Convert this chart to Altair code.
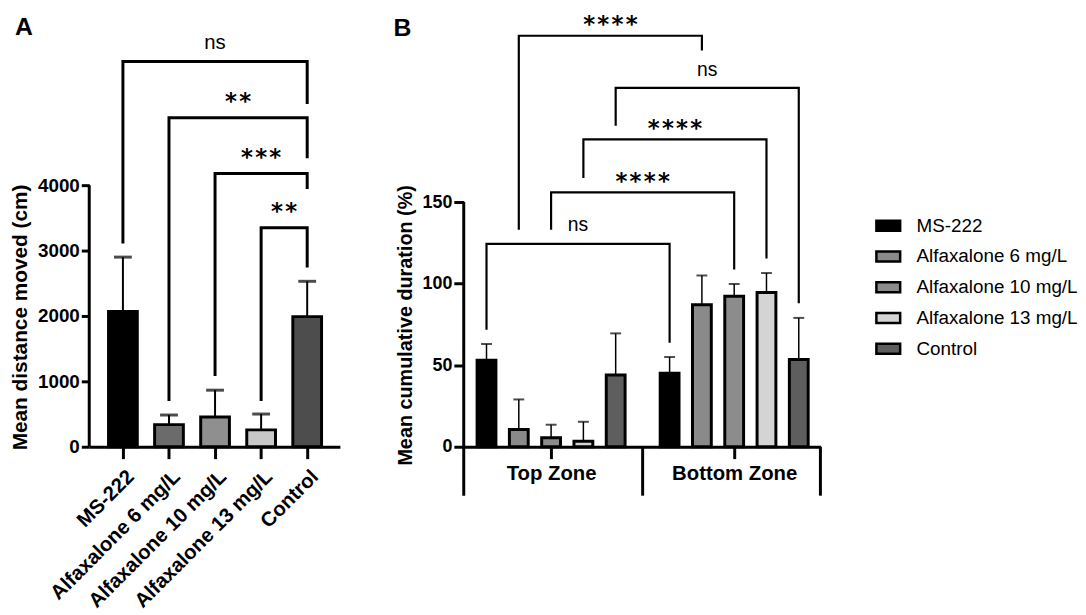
import json
import altair as alt
import pandas as pd

# ---------------- data ----------------
groups = ["MS-222", "Alfaxalone 6 mg/L", "Alfaxalone 10 mg/L", "Alfaxalone 13 mg/L", "Control"]
colors_a = ["#000000", "#6b6b6b", "#8f8f8f", "#c8c8c8", "#4d4d4d"]
colors_b = ["#000000", "#8a8a8a", "#8c8c8c", "#d4d4d4", "#5e5e5e"]

# Panel A: mean distance moved (cm) and SD
dist_mean = [2070, 338, 455, 258, 1990]
dist_sd = [830, 147, 410, 242, 540]
a_ticks = [0, 1000, 2000, 3000, 4000]

# Panel A significance brackets
a_br_left = [0, 1, 2, 3]
a_br_right = [4, 4, 4, 4]
a_br_top = [5890, 5030, 4180, 3350]
a_br_lend = [3110, 700, 1080, 700]
a_br_rend = [5240, 4410, 3940, 2740]
a_br_label = ["ns", "**", "***", "**"]

# Panel B: mean cumulative duration (%) and SD
zones = ["Top Zone", "Bottom Zone"]
top_mean = [53, 10.5, 5.5, 3.3, 44]
top_sd = [10, 18.5, 8, 12, 25.5]
bottom_mean = [45, 87, 92.3, 94.5, 53.5]
bottom_sd = [10, 18, 7.5, 12, 25.5]
b_ticks = [0, 50, 100, 150]

# Panel B significance brackets (same series, top zone vs bottom zone)
b_br_series = [0, 2, 3, 4, 1]
b_br_top = [124.4, 156, 188.5, 220, 252]
b_br_lend = [71.7, 133, 164.8, 196.8, 133]
b_br_rend = [63.8, 108.7, 115.4, 88, 243]
b_br_label = ["ns", "****", "****", "ns", "****"]

# ---------------- layout ----------------
H = 416
A_W, B_W = 253, 360
A_XDOM = [-0.731, 4.71]
A_YDOM = [0, 6303]
B_XDOM = [-0.705, 10.34]
B_YDOM = [0, 252.7]
ZONE_GAP = 5.67
B_FLOOR = -30
FONT = "Liberation Sans"
HAIR = "\u200a"

# ---------------- tables ----------------
a_df = pd.DataFrame({
    "x": list(range(len(groups))),
    "group": groups,
    "y": dist_mean,
    "upper": [m + s for m, s in zip(dist_mean, dist_sd)],
})

def bracket_table(lefts, rights, tops, lends, rends):
    rows = []
    for k, (l, r, t, le, re) in enumerate(zip(lefts, rights, tops, lends, rends)):
        for o, (xx, yy) in enumerate([(l, le), (l, t), (r, t), (r, re)]):
            rows.append({"id": k, "order": o, "x": xx, "y": yy})
    return pd.DataFrame(rows)

def label_table(lefts, rights, tops, labels):
    return pd.DataFrame({
        "x": [(l + r) / 2 for l, r in zip(lefts, rights)],
        "y": tops,
        "label": labels,
        "kind": ["ns" if s == "ns" else "star" for s in labels],
        "shown": [s if s == "ns" else HAIR.join(s) for s in labels],
    })

a_br = bracket_table(a_br_left, a_br_right, a_br_top, a_br_lend, a_br_rend)
a_lab = label_table(a_br_left, a_br_right, a_br_top, a_br_label)

b_rows = []
for z, (means, sds) in enumerate([(top_mean, top_sd), (bottom_mean, bottom_sd)]):
    for j, g in enumerate(groups):
        b_rows.append({"x": z * ZONE_GAP + j, "zone": zones[z], "group": g,
                       "y": means[j], "upper": means[j] + sds[j]})
b_df = pd.DataFrame(b_rows)

b_right = [ZONE_GAP + s for s in b_br_series]
b_br = bracket_table(b_br_series, b_right, b_br_top, b_br_lend, b_br_rend)
b_lab = label_table(b_br_series, b_right, b_br_top, b_br_label)

one = pd.DataFrame({"t": [""]})

# ---------------- panel A ----------------
x_a = alt.X("x:Q", scale=alt.Scale(domain=A_XDOM, nice=False, zero=False, padding=0),
            axis=alt.Axis(values=list(range(len(groups))),
                          labelExpr=json.dumps(groups) + "[datum.value]",
                          labelAngle=-45, labelAlign="right", labelBaseline="alphabetic",
                          labelFontSize=20.5, tickSize=12, labelPadding=19, labelOffset=12,
                          labelOverlap=False, labelFlush=False, labelLimit=0, title=None))
y_a = alt.Y("y:Q", scale=alt.Scale(domain=A_YDOM, nice=False, padding=0),
            axis=alt.Axis(values=a_ticks, format="d", domain=False, tickSize=8, labelPadding=2,
                          labelFontSize=19, title="Mean distance moved (cm)",
                          titleFontSize=21, titleAngle=270, titleBaseline="alphabetic",
                          titleAlign="center", titleX=-63, titleY=285))

a_anchor = alt.Chart(one).mark_rule(strokeOpacity=0, strokeWidth=1).encode(
    x=alt.value(-81.5), x2=alt.value(-81.5), y=alt.value(-39.5), y2=alt.value(-38.5))
a_axis_line = alt.Chart(pd.DataFrame({"y": [a_ticks[0]], "y2": [a_ticks[-1]]})).mark_rule(
    color="black", strokeWidth=3).encode(x=alt.value(0), y=y_a, y2="y2:Q")
a_err = alt.Chart(a_df).mark_rule(color="black", strokeWidth=2).encode(x=x_a, y=y_a, y2="upper:Q")
a_cap = alt.Chart(a_df).mark_tick(orient="horizontal", color="black", size=18, thickness=3).encode(
    x=x_a, y=alt.Y("upper:Q"))
a_bar = alt.Chart(a_df).mark_bar(size=29, stroke="black", strokeWidth=3).encode(
    x=x_a, y=y_a,
    color=alt.Color("group:N", scale=alt.Scale(domain=groups, range=colors_a), legend=None))
a_brk = alt.Chart(a_br).mark_line(color="black", strokeWidth=3, strokeJoin="miter").encode(
    x=x_a, y=y_a, detail="id:N", order="order:Q")
a_ns = alt.Chart(a_lab).transform_filter("datum.kind == 'ns'").mark_text(
    font=FONT, fontSize=20.5, dy=-13, baseline="alphabetic", color="black").encode(
    x=x_a, y=y_a, text="shown:N")
a_st = alt.Chart(a_lab).transform_filter("datum.kind == 'star'").mark_text(
    font="DejaVu Sans", fontWeight="bold", fontSize=23, dy=-8.5, baseline="alphabetic", color="black").encode(
    x=x_a, y=y_a, text="shown:N")
a_letter = alt.Chart(pd.DataFrame({"t": ["A"]})).mark_text(
    font=FONT, fontWeight="bold", fontSize=25, align="left", baseline="alphabetic", color="black").encode(
    x=alt.value(-75), y=alt.value(0), text="t:N")

panel_a = alt.layer(a_anchor, a_axis_line, a_brk, a_err, a_bar, a_cap, a_ns, a_st, a_letter).properties(
    width=A_W, height=H)

# ---------------- panel B ----------------
x_b = alt.X("x:Q", scale=alt.Scale(domain=B_XDOM, nice=False, zero=False, padding=0),
            axis=alt.Axis(values=[2, ZONE_GAP + 2],
                          labelExpr=json.dumps(zones) + "[datum.value < " + str(ZONE_GAP) + " ? 0 : 1]",
                          labelAngle=0, labelAlign="center", labelBaseline="alphabetic",
                          labelFontSize=20.5, tickSize=12, labelPadding=21.5,
                          labelOverlap=False, labelFlush=False, labelLimit=0, title=None))
y_b = alt.Y("y:Q", scale=alt.Scale(domain=B_YDOM, nice=False, padding=0),
            axis=alt.Axis(values=b_ticks, format="d", domain=False, tickSize=10, labelPadding=2,
                          labelFontSize=18, title="Mean cumulative duration (%)",
                          titleFontSize=20, titleAngle=270, titleBaseline="alphabetic",
                          titleAlign="center", titleX=-53, titleY=293))

b_axis_line = alt.Chart(pd.DataFrame({"y": [B_FLOOR], "y2": [b_ticks[-1]]})).mark_rule(
    color="black", strokeWidth=3).encode(x=alt.value(0), y=y_b, y2="y2:Q")
b_sep = alt.Chart(pd.DataFrame({"x": [(len(groups) - 1 + ZONE_GAP) / 2, B_XDOM[1]],
                                "y": [B_FLOOR, B_FLOOR], "y2": [0, 0]})).mark_rule(
    color="black", strokeWidth=3).encode(x=x_b, y=y_b, y2="y2:Q")
b_err = alt.Chart(b_df).mark_rule(color="black", strokeWidth=1.5).encode(x=x_b, y=y_b, y2="upper:Q")
b_cap = alt.Chart(b_df).mark_tick(orient="horizontal", color="black", size=11, thickness=2).encode(
    x=x_b, y=alt.Y("upper:Q"))
b_bar = alt.Chart(b_df).mark_bar(size=19, stroke="black", strokeWidth=3).encode(
    x=x_b, y=y_b,
    color=alt.Color("group:N", scale=alt.Scale(domain=groups, range=colors_b),
                    legend=alt.Legend(title=None, orient="none", legendX=415, legendY=179.5,
                                      symbolType="M-1,-0.42L1,-0.42L1,0.42L-1,0.42Z",
                                      symbolSize=576, symbolStrokeColor="black",
                                      symbolStrokeWidth=2.5, symbolOpacity=1,
                                      labelFont=FONT, labelFontSize=19, labelColor="black",
                                      labelOffset=15, rowPadding=7, padding=0, labelLimit=0)))
b_brk = alt.Chart(b_br).mark_line(color="black", strokeWidth=2.2, strokeJoin="miter").encode(
    x=x_b, y=y_b, detail="id:N", order="order:Q")
b_ns = alt.Chart(b_lab).transform_filter("datum.kind == 'ns'").mark_text(
    font=FONT, fontSize=19.5, dy=-12.5, baseline="alphabetic", color="black").encode(
    x=x_b, y=y_b, text="shown:N")
b_st = alt.Chart(b_lab).transform_filter("datum.kind == 'star'").mark_text(
    font="DejaVu Sans", fontWeight="bold", fontSize=23, dy=-3.5, baseline="alphabetic", color="black").encode(
    x=x_b, y=y_b, text="shown:N")
b_letter = alt.Chart(pd.DataFrame({"t": ["B"]})).mark_text(
    font=FONT, fontWeight="bold", fontSize=25, align="left", baseline="alphabetic", color="black").encode(
    x=alt.value(-71), y=alt.value(1), text="t:N")

panel_b = alt.layer(b_axis_line, b_sep, b_brk, b_err, b_bar, b_cap, b_ns, b_st, b_letter).properties(
    width=B_W, height=H)

chart = alt.hconcat(panel_a, panel_b, spacing=125, bounds="flush").resolve_scale(
    x="independent", y="independent", color="independent"
).properties(
    padding={"left": 0, "top": -16, "right": 0, "bottom": 0}
).configure_view(stroke=None).configure_axis(
    labelFont=FONT, titleFont=FONT, labelFontWeight="bold", titleFontWeight="bold",
    labelColor="black", titleColor="black", domainColor="black", tickColor="black",
    domainWidth=3, tickWidth=3, grid=False
)

chart.save("out.html", embed_options={"renderer": "svg", "actions": False})
